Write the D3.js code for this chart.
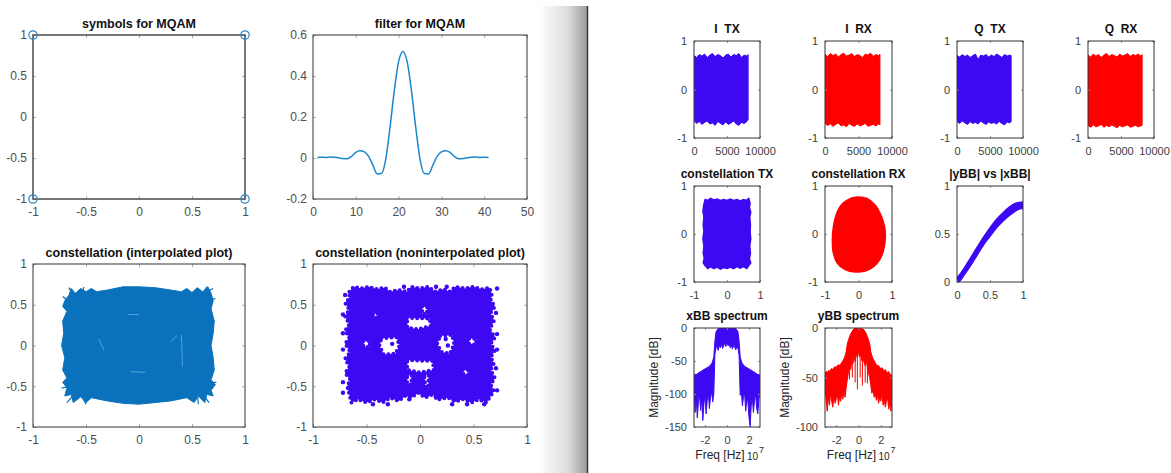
<!DOCTYPE html>
<html>
<head>
<meta charset="utf-8">
<script src="https://cdn.jsdelivr.net/npm/d3@7"></script>
<style>
  body { margin: 0; background: #fff; }
  svg { display: block; font-family: "Liberation Sans", Arial, Helvetica, sans-serif; }
</style>
</head>
<body>
<svg id="chart" width="1171" height="473" viewBox="0 0 1171 473"></svg>
<script>
// ---------- left figure data ----------
const unitTicks = [-1, -0.5, 0, 0.5, 1];
const symbolI = [-1, 1, -1, 1];
const symbolQ = [1, 1, -1, -1];

const filterXTicks = [0, 10, 20, 30, 40, 50];
const filterYTicks = [-0.2, 0, 0.2, 0.4, 0.6];
const filterTaps = [0.003, 0.004, 0.003, 0.005, 0.004, 0.001, -0.003, -0.004, 0.008, 0.028,
    0.035, 0.030, 0.008, -0.035, -0.078, -0.076, -0.005, 0.150, 0.330, 0.470,
    0.520, 0.470, 0.330, 0.150, -0.005, -0.076, -0.078, -0.035, 0.008, 0.030,
    0.035, 0.028, 0.008, -0.004, -0.003, 0.001, 0.004, 0.005, 0.003, 0.004, 0.003];

// outline of the interpolated constellation blob (I, Q)
const interpOutline = [[-0.70, 0.55], [-0.66, 0.62], [-0.64, 0.70], [-0.60, 0.64], [-0.55, 0.70], [-0.50, 0.66],
    [-0.45, 0.70], [-0.40, 0.66], [-0.30, 0.68], [-0.15, 0.72], [0, 0.72], [0.15, 0.71], [0.30, 0.68],
    [0.40, 0.66], [0.45, 0.70], [0.50, 0.65], [0.55, 0.71], [0.60, 0.66], [0.65, 0.72], [0.68, 0.64],
    [0.70, 0.55], [0.68, 0.45], [0.71, 0.30], [0.70, 0.15], [0.68, 0], [0.70, -0.15], [0.71, -0.30],
    [0.68, -0.42], [0.72, -0.48], [0.68, -0.55], [0.70, -0.62], [0.64, -0.60], [0.62, -0.70], [0.56, -0.62],
    [0.52, -0.70], [0.45, -0.64], [0.30, -0.68], [0.15, -0.70], [0, -0.72], [-0.15, -0.71], [-0.30, -0.68],
    [-0.45, -0.64], [-0.50, -0.70], [-0.55, -0.63], [-0.62, -0.70], [-0.64, -0.60], [-0.70, -0.62],
    [-0.68, -0.52], [-0.72, -0.45], [-0.68, -0.40], [-0.72, -0.30], [-0.70, -0.15], [-0.73, 0],
    [-0.71, 0.15], [-0.72, 0.30], [-0.68, 0.42], [-0.72, 0.48]];
const interpSpikes = [[-0.60, 0.55, -0.66, 0.71], [-0.55, 0.58, -0.52, 0.72], [-0.62, 0.50, -0.72, 0.60],
    [0.58, 0.56, 0.64, 0.72], [0.55, 0.60, 0.70, 0.70], [0.60, 0.50, 0.72, 0.58],
    [-0.58, -0.55, -0.68, -0.70], [-0.55, -0.58, -0.50, -0.72], [-0.60, -0.50, -0.73, -0.52],
    [0.58, -0.55, 0.66, -0.70], [0.55, -0.58, 0.56, -0.72], [0.60, -0.48, 0.73, -0.45]];
const interpStreaks = [[0.40, 0.13, 0.41, -0.26], [-0.38, 0.08, -0.33, -0.06], [-0.10, 0.38, 0.0, 0.38],
    [-0.08, -0.32, 0.06, -0.33], [0.30, 0.05, 0.36, 0.12]];

// non-interpolated constellation: outer edge, empty pockets, stray symbols
const scatterOutline = [[-0.66, 0.66], [-0.62, 0.72], [-0.55, 0.70], [-0.48, 0.72], [-0.40, 0.69], [-0.33, 0.71],
    [-0.28, 0.66], [-0.20, 0.68], [-0.12, 0.66], [-0.08, 0.72], [0.0, 0.70], [0.08, 0.72], [0.14, 0.66],
    [0.22, 0.69], [0.28, 0.66], [0.33, 0.72], [0.42, 0.70], [0.50, 0.72], [0.58, 0.69], [0.65, 0.71],
    [0.67, 0.62], [0.66, 0.55], [0.70, 0.48], [0.66, 0.40], [0.69, 0.30], [0.65, 0.20], [0.70, 0.10],
    [0.66, 0.02], [0.70, -0.06], [0.66, -0.14], [0.69, -0.22], [0.66, -0.30], [0.70, -0.40], [0.66, -0.48],
    [0.69, -0.56], [0.66, -0.62], [0.62, -0.70], [0.55, -0.66], [0.48, -0.70], [0.40, -0.66], [0.33, -0.69],
    [0.26, -0.64], [0.18, -0.66], [0.12, -0.60], [0.05, -0.64], [-0.02, -0.58], [-0.08, -0.64],
    [-0.14, -0.62], [-0.20, -0.68], [-0.28, -0.64], [-0.35, -0.70], [-0.42, -0.66], [-0.50, -0.70],
    [-0.58, -0.66], [-0.64, -0.70], [-0.66, -0.60], [-0.68, -0.50], [-0.65, -0.42], [-0.70, -0.34],
    [-0.66, -0.26], [-0.70, -0.16], [-0.65, -0.08], [-0.70, 0.02], [-0.66, 0.10], [-0.70, 0.18],
    [-0.66, 0.26], [-0.70, 0.36], [-0.66, 0.44], [-0.70, 0.52], [-0.66, 0.58]];
const scatterHoles = [
    [[-0.36, 0.09], [-0.22, 0.10], [-0.19, 0.0], [-0.23, -0.10], [-0.34, -0.11], [-0.38, 0.0]],
    [[-0.12, 0.34], [0.09, 0.33], [0.10, 0.24], [-0.02, 0.20], [-0.12, 0.22]],
    [[0.19, 0.12], [0.30, 0.13], [0.32, 0.02], [0.28, -0.10], [0.20, -0.08], [0.16, 0.02]],
    [[-0.12, -0.18], [0.12, -0.19], [0.13, -0.30], [0.0, -0.33], [-0.12, -0.30]],
    [[0.02, 0.48], [0.07, 0.47], [0.06, 0.38], [0.02, 0.39]],
    [[0.04, -0.36], [0.08, -0.36], [0.08, -0.52], [0.05, -0.50]],
    [[-0.12, -0.36], [-0.08, -0.36], [-0.08, -0.48], [-0.12, -0.47]],
    [[0.46, 0.09], [0.53, 0.08], [0.52, 0.01], [0.46, 0.02]],
    [[-0.53, 0.05], [-0.47, 0.06], [-0.47, -0.02], [-0.53, -0.01]],
    [[-0.44, 0.40], [-0.40, 0.40], [-0.40, 0.34], [-0.44, 0.35]],
    [[0.40, -0.30], [0.45, -0.30], [0.45, -0.36], [0.40, -0.35]]];
const scatterStray = [[-0.72, 0.38], [-0.72, 0.15], [-0.72, -0.05], [-0.72, -0.45], [-0.72, -0.58],
    [-0.70, 0.62], [0.72, 0.70], [0.72, -0.55], [0.71, 0.40], [0.72, -0.05], [0.72, 0.14], [0.71, -0.28],
    [0.60, -0.72], [0.44, -0.72], [-0.44, -0.72], [-0.30, -0.72], [0.30, -0.72], [-0.15, 0.72],
    [0.15, 0.72], [0.25, 0.72], [-0.10, -0.66], [0.15, -0.64], [-0.26, 0.02], [0.26, 0.0], [0.24, 0.08]];

// ---------- right figure data ----------
const timeTicks = [0, 5000, 10000];
const oneTicks = [-1, 0, 1];
const sampleIdx = [0, 400, 800, 1200, 1600, 2000, 2400, 2800, 3200, 3600, 4000,
    4400, 4800, 5200, 5600, 6000, 6400, 6800, 7200, 7600, 8000, 8200];
const iTxUpper = [0.70, 0.66, 0.72, 0.69, 0.73, 0.66, 0.71, 0.74, 0.68, 0.72, 0.70, 0.65, 0.71, 0.73, 0.67, 0.72, 0.70, 0.74, 0.66, 0.71, 0.69, 0.72];
const iTxLower = [-0.64, -0.70, -0.66, -0.72, -0.68, -0.65, -0.71, -0.69, -0.74, -0.66, -0.70, -0.73, -0.67, -0.72, -0.69, -0.65, -0.71, -0.74, -0.68, -0.70, -0.66, -0.62];
const iRxUpper = [0.72, 0.68, 0.74, 0.70, 0.73, 0.67, 0.72, 0.75, 0.69, 0.71, 0.74, 0.68, 0.72, 0.70, 0.66, 0.73, 0.71, 0.75, 0.68, 0.72, 0.70, 0.73];
const iRxLower = [-0.70, -0.74, -0.71, -0.76, -0.72, -0.69, -0.75, -0.73, -0.77, -0.70, -0.74, -0.76, -0.71, -0.75, -0.73, -0.70, -0.76, -0.74, -0.72, -0.75, -0.71, -0.73];
const qTxUpper = [0.70, 0.67, 0.72, 0.68, 0.71, 0.66, 0.70, 0.73, 0.62, 0.71, 0.69, 0.72, 0.67, 0.71, 0.68, 0.73, 0.70, 0.66, 0.72, 0.69, 0.71, 0.70];
const qTxLower = [-0.66, -0.70, -0.65, -0.69, -0.72, -0.66, -0.70, -0.68, -0.71, -0.65, -0.69, -0.72, -0.67, -0.70, -0.68, -0.71, -0.66, -0.70, -0.73, -0.67, -0.69, -0.66];
const qRxUpper = [0.71, 0.67, 0.73, 0.69, 0.72, 0.66, 0.71, 0.74, 0.68, 0.72, 0.70, 0.67, 0.73, 0.69, 0.71, 0.74, 0.68, 0.72, 0.70, 0.73, 0.69, 0.72];
const qRxLower = [-0.74, -0.78, -0.73, -0.77, -0.75, -0.72, -0.78, -0.74, -0.77, -0.73, -0.76, -0.79, -0.74, -0.77, -0.75, -0.73, -0.78, -0.76, -0.74, -0.77, -0.75, -0.74];

const constTxOutline = [[-0.70, 0.62], [-0.66, 0.72], [-0.58, 0.70], [-0.50, 0.74], [-0.40, 0.71], [-0.30, 0.73],
    [-0.20, 0.70], [-0.10, 0.72], [0.0, 0.70], [0.10, 0.73], [0.20, 0.70], [0.30, 0.72], [0.40, 0.69],
    [0.50, 0.72], [0.58, 0.70], [0.66, 0.74], [0.70, 0.64], [0.68, 0.55], [0.72, 0.45], [0.69, 0.35],
    [0.71, 0.20], [0.70, 0.05], [0.72, -0.10], [0.69, -0.25], [0.71, -0.40], [0.68, -0.52], [0.72, -0.60],
    [0.66, -0.66], [0.60, -0.72], [0.50, -0.68], [0.40, -0.71], [0.30, -0.68], [0.20, -0.72], [0.10, -0.69],
    [0.0, -0.72], [-0.10, -0.70], [-0.20, -0.73], [-0.30, -0.69], [-0.40, -0.72], [-0.50, -0.68],
    [-0.58, -0.72], [-0.66, -0.66], [-0.72, -0.60], [-0.69, -0.50], [-0.72, -0.40], [-0.70, -0.25],
    [-0.73, -0.10], [-0.70, 0.05], [-0.72, 0.20], [-0.70, 0.35], [-0.73, 0.48]];
const constRxOutline = [[-0.05, 0.77], [0.25, 0.74], [0.50, 0.60], [0.67, 0.39], [0.78, 0.15], [0.80, -0.09],
    [0.75, -0.33], [0.63, -0.54], [0.45, -0.68], [0.20, -0.77], [-0.10, -0.79], [-0.40, -0.74],
    [-0.63, -0.61], [-0.75, -0.40], [-0.78, -0.12], [-0.75, 0.15], [-0.67, 0.39], [-0.55, 0.57], [-0.35, 0.70]];

const ampTicks = [0, 0.5, 1];
const ampX = [0, 0.05, 0.1, 0.2, 0.3, 0.4, 0.5, 0.6, 0.7, 0.8, 0.9, 1.0];
const ampUpper = [0.04, 0.08, 0.13, 0.24, 0.35, 0.46, 0.56, 0.65, 0.72, 0.78, 0.82, 0.83];
const ampLower = [0.0, 0.02, 0.07, 0.17, 0.28, 0.39, 0.48, 0.57, 0.64, 0.70, 0.75, 0.77];

const freqTicks = [-2, 0, 2];
const xbbTicks = [-150, -100, -50, 0];
const ybbTicks = [-100, -50, 0];
const freqAxis = [-3.0, -2.9, -2.8, -2.7, -2.6, -2.5, -2.4, -2.3, -2.2, -2.1, -2.0, -1.9, -1.8, -1.7, -1.6,
    -1.5, -1.4, -1.3, -1.2, -1.1, -1.0, -0.9, -0.8, -0.7, -0.6, -0.5, -0.4, -0.3, -0.2, -0.1, 0,
    0.1, 0.2, 0.3, 0.4, 0.5, 0.6, 0.7, 0.8, 0.9, 1.0, 1.1, 1.2, 1.3, 1.4, 1.5, 1.6, 1.7, 1.8, 1.9,
    2.0, 2.1, 2.2, 2.3, 2.4, 2.5, 2.6, 2.7, 2.8, 2.9, 3.0];
const xbbUpper = [-72, -70, -71, -69, -68, -67, -66, -65, -64, -63, -62, -61, -60, -59, -58,
    -56, -54, -50, -44, -20, -6, -3, -1, 0, 0, 0, 0, 0, 0, 0, 0,
    0, 0, 0, 0, 0, 0, 0, -1, -3, -6, -20, -44, -50, -54, -56, -58, -59, -60, -61,
    -62, -63, -64, -65, -66, -67, -68, -69, -71, -70, -72];
const xbbLower = [-92, -128, -105, -136, -112, -100, -125, -108, -140, -115, -102, -130, -110, -98, -122,
    -105, -96, -112, -100, -40, -30, -28, -34, -26, -30, -24, -31, -27, -22, -28, -20,
    -27, -24, -30, -26, -32, -25, -29, -33, -28, -31, -42, -102, -95, -118, -104, -99, -126, -108, -112,
    -135, -150, -118, -105, -128, -110, -100, -122, -130, -108, -95];
const ybbUpper = [-46, -44, -45, -43, -44, -42, -41, -42, -40, -39, -40, -38, -37, -38, -36,
    -35, -33, -31, -28, -24, -16, -12, -9, -6, -4, -2, -1, 0, 0, 0, 0,
    0, 0, -1, -1, -2, -4, -6, -9, -12, -16, -24, -28, -31, -33, -35, -37, -38, -38, -40,
    -41, -40, -42, -43, -42, -44, -45, -44, -46, -47, -48];
const ybbLower = [-60, -72, -84, -70, -78, -66, -74, -80, -68, -76, -72, -65, -78, -70, -74,
    -66, -72, -64, -70, -60, -52, -45, -38, -42, -32, -36, -28, -34, -26, -30, -24,
    -29, -27, -33, -30, -35, -38, -33, -40, -46, -50, -58, -66, -62, -70, -66, -73, -68, -76, -70,
    -74, -65, -78, -72, -80, -74, -70, -82, -76, -84, -72];
const ybbSpikes = [[-0.55, -50], [-0.3, -55], [-0.1, -62], [0.15, -50], [0.35, -58], [0.6, -55], [-0.8, -52], [0.8, -56]];

// ---------- styling ----------
const MATLAB_BLUE = "#0a72bd";
const TX_BLUE = "#3d08f2";
const RX_RED = "#ff0000";

const svg = d3.select("#chart");
const fmt = d => String(d);
let clipCount = 0;

// shaded divider between the two figure windows
const defs = svg.append("defs");
const grad = defs.append("linearGradient").attr("id", "shade");
grad.append("stop").attr("offset", "0%").attr("stop-color", "#ffffff");
grad.append("stop").attr("offset", "60%").attr("stop-color", "#dedede");
grad.append("stop").attr("offset", "100%").attr("stop-color", "#9c9c9c");
svg.append("rect").attr("x", 538).attr("y", 6).attr("width", 49).attr("height", 467).attr("fill", "url(#shade)");
svg.append("line").attr("x1", 587.5).attr("x2", 587.5).attr("y1", 6).attr("y2", 473)
    .attr("stroke", "#3a3a3a").attr("stroke-width", 1.5);

function panel(o) {
    const [l, r, t, b] = o.box;
    const x = d3.scaleLinear().domain(o.xDomain).range([l, r]);
    const y = d3.scaleLinear().domain(o.yDomain).range([b, t]);
    const g = svg.append("g");
    const id = "clip" + (clipCount++);
    g.append("clipPath").attr("id", id).append("rect")
        .attr("x", l).attr("y", t).attr("width", r - l).attr("height", b - t);
    const plot = g.append("g").attr("clip-path", `url(#${id})`);
    const frame = g.append("g");

    const styleAxis = sel => {
        sel.attr("font-family", null).attr("font-size", null);
        sel.select(".domain").remove();
        sel.selectAll(".tick line").attr("stroke", o.tickColor);
        sel.selectAll("text").attr("fill", o.labelColor).attr("font-size", o.font);
    };
    frame.append("g").attr("transform", `translate(0,${b})`)
        .call(d3.axisBottom(x).tickValues(o.xTicks).tickFormat(fmt).tickSize(-o.tick).tickPadding(o.padX))
        .call(styleAxis);
    frame.append("g").attr("transform", `translate(${l},0)`)
        .call(d3.axisLeft(y).tickValues(o.yTicks).tickFormat(fmt).tickSize(-o.tick).tickPadding(o.padY))
        .call(styleAxis);
    frame.append("g").attr("transform", `translate(0,${t})`)
        .call(d3.axisTop(x).tickValues(o.xTicks).tickFormat(() => "").tickSize(-o.tick))
        .call(styleAxis);
    frame.append("g").attr("transform", `translate(${r},0)`)
        .call(d3.axisRight(y).tickValues(o.yTicks).tickFormat(() => "").tickSize(-o.tick))
        .call(styleAxis);

    frame.append("rect").attr("x", l).attr("y", t).attr("width", r - l).attr("height", b - t)
        .attr("fill", "none").attr("stroke", o.boxColor || "#333").attr("stroke-width", o.boxWidth || 1);

    frame.append("text").attr("x", (l + r) / 2).attr("y", t - o.titleGap)
        .attr("text-anchor", "middle").attr("font-weight", "bold").attr("font-size", o.titleSize)
        .attr("fill", "#111").style("white-space", "pre").text(o.title);

    return { x, y, plot, frame };
}

const leftStyle = { font: 12, labelColor: "#4d4d4d", tickColor: "#b0b0b0", tick: 3, padX: 8, padY: 6, titleGap: 7, titleSize: 12.5 };
const rightStyle = { font: 11, labelColor: "#3c3c3c", tickColor: "#999", tick: 2, padX: 9, padY: 7, titleGap: 8, titleSize: 12 };

const closed = (p) => d3.line().x(d => p.x(d[0])).y(d => p.y(d[1])).curve(d3.curveLinearClosed);

// ---------- left figure ----------
{
    const p = panel({ ...leftStyle, box: [33, 245, 35, 199], xDomain: [-1, 1], yDomain: [-1, 1],
        xTicks: unitTicks, yTicks: unitTicks, title: "symbols for MQAM", boxColor: "#555", boxWidth: 1.6 });
    p.frame.selectAll("circle.sym").data(symbolI).join("circle").attr("class", "sym")
        .attr("cx", d => p.x(d)).attr("cy", (d, i) => p.y(symbolQ[i])).attr("r", 4.2)
        .attr("fill", "none").attr("stroke", "#2f86c6").attr("stroke-width", 1.2);
}
{
    const p = panel({ ...leftStyle, box: [313, 527, 35, 199], xDomain: [0, 50], yDomain: [-0.2, 0.6],
        xTicks: filterXTicks, yTicks: filterYTicks, title: "filter for MQAM" });
    p.plot.append("path").datum(filterTaps)
        .attr("d", d3.line().x((d, i) => p.x(i + 1)).y(d => p.y(d)).curve(d3.curveMonotoneX))
        .attr("fill", "none").attr("stroke", "#1b86c8").attr("stroke-width", 1.5);
}
{
    const p = panel({ ...leftStyle, box: [33, 245, 264, 427], xDomain: [-1, 1], yDomain: [-1, 1],
        xTicks: unitTicks, yTicks: unitTicks, title: "constellation (interpolated plot)" });
    p.plot.append("path").datum(interpOutline).attr("d", closed(p))
        .attr("fill", MATLAB_BLUE).attr("stroke", MATLAB_BLUE).attr("stroke-width", 1);
    p.plot.selectAll("line.spike").data(interpSpikes).join("line").attr("class", "spike")
        .attr("x1", d => p.x(d[0])).attr("y1", d => p.y(d[1])).attr("x2", d => p.x(d[2])).attr("y2", d => p.y(d[3]))
        .attr("stroke", MATLAB_BLUE).attr("stroke-width", 1.2);
    p.plot.selectAll("line.streak").data(interpStreaks).join("line").attr("class", "streak")
        .attr("x1", d => p.x(d[0])).attr("y1", d => p.y(d[1])).attr("x2", d => p.x(d[2])).attr("y2", d => p.y(d[3]))
        .attr("stroke", "#4fa2dc").attr("stroke-width", 1);
}
{
    const p = panel({ ...leftStyle, box: [313, 527, 264, 427], xDomain: [-1, 1], yDomain: [-1, 1],
        xTicks: unitTicks, yTicks: unitTicks, title: "constellation (noninterpolated plot)" });
    const ring = closed(p);
    p.plot.append("path")
        .attr("d", ring(scatterOutline) + scatterHoles.map(h => ring(h)).join(""))
        .attr("fill", TX_BLUE).attr("fill-rule", "evenodd")
        .attr("stroke", TX_BLUE).attr("stroke-width", 4).attr("stroke-linecap", "round")
        .attr("stroke-dasharray", "0 5");
    p.plot.selectAll("circle").data(scatterStray).join("circle")
        .attr("cx", d => p.x(d[0])).attr("cy", d => p.y(d[1])).attr("r", 2.2).attr("fill", TX_BLUE);
}

// ---------- right figure ----------
const cols = [[694, 760], [825, 892], [957, 1023], [1088, 1154]];
const rows = [[41, 138], [186, 282], [328, 427]];

const timePanels = [
    { title: "I  TX", upper: iTxUpper, lower: iTxLower, color: TX_BLUE },
    { title: "I  RX", upper: iRxUpper, lower: iRxLower, color: RX_RED },
    { title: "Q  TX", upper: qTxUpper, lower: qTxLower, color: TX_BLUE },
    { title: "Q  RX", upper: qRxUpper, lower: qRxLower, color: RX_RED }
];
timePanels.forEach((tp, k) => {
    const p = panel({ ...rightStyle, box: [...cols[k], ...rows[0]], xDomain: [0, 10000], yDomain: [-1, 1],
        xTicks: timeTicks, yTicks: oneTicks, title: tp.title });
    p.plot.append("path").datum(tp.upper)
        .attr("d", d3.area().x((d, i) => p.x(sampleIdx[i])).y0((d, i) => p.y(tp.lower[i])).y1(d => p.y(d)))
        .attr("fill", tp.color).attr("stroke", tp.color).attr("stroke-width", 1);
});

[{ title: "constellation TX", outline: constTxOutline, color: TX_BLUE, curve: d3.curveLinearClosed },
 { title: "constellation RX", outline: constRxOutline, color: RX_RED, curve: d3.curveCatmullRomClosed }]
    .forEach((cp, k) => {
        const p = panel({ ...rightStyle, box: [...cols[k], ...rows[1]], xDomain: [-1, 1], yDomain: [-1, 1],
            xTicks: oneTicks, yTicks: oneTicks, title: cp.title });
        p.plot.append("path").datum(cp.outline)
            .attr("d", d3.line().x(d => p.x(d[0])).y(d => p.y(d[1])).curve(cp.curve))
            .attr("fill", cp.color).attr("stroke", cp.color).attr("stroke-width", 1.5);
    });

{
    const p = panel({ ...rightStyle, box: [...cols[2], ...rows[1]], xDomain: [0, 1], yDomain: [0, 1],
        xTicks: ampTicks, yTicks: ampTicks, title: "|yBB| vs |xBB|" });
    p.plot.append("path").datum(ampUpper)
        .attr("d", d3.area().x((d, i) => p.x(ampX[i])).y0((d, i) => p.y(ampLower[i])).y1(d => p.y(d)).curve(d3.curveMonotoneX))
        .attr("fill", TX_BLUE).attr("stroke", TX_BLUE).attr("stroke-width", 2).attr("stroke-linejoin", "round");
}

function spectrum(k, title, yDomain, yTicks, upper, lower, color, spikes) {
    const p = panel({ ...rightStyle, box: [...cols[k], ...rows[2]], xDomain: [-3, 3], yDomain,
        xTicks: freqTicks, yTicks, title });
    p.plot.append("path").datum(upper)
        .attr("d", d3.area().x((d, i) => p.x(freqAxis[i])).y0((d, i) => p.y(lower[i])).y1(d => p.y(d)))
        .attr("fill", color).attr("stroke", color).attr("stroke-width", 1);
    p.plot.selectAll("line.sp").data(spikes).join("line").attr("class", "sp")
        .attr("x1", d => p.x(d[0])).attr("x2", d => p.x(d[0]))
        .attr("y1", p.y(-25)).attr("y2", d => p.y(d[1]))
        .attr("stroke", color).attr("stroke-width", 1);
    const [l, r] = cols[k];
    const [t, b] = rows[2];
    const cx = (l + r) / 2;
    p.frame.append("text").attr("transform", `translate(${l - 36},${(t + b) / 2}) rotate(-90)`)
        .attr("text-anchor", "middle").attr("font-size", 12).attr("fill", "#262626").text("Magnitude [dB]");
    // axis label, then the x10^7 exponent just to its right
    p.frame.append("text").attr("x", cx - 7).attr("y", b + 32)
        .attr("text-anchor", "middle").attr("font-size", 12).attr("fill", "#262626").text("Freq [Hz]");
    p.frame.append("text").attr("x", cx + 20).attr("y", b + 33)
        .attr("font-size", 10).attr("fill", "#262626").text("10");
    p.frame.append("text").attr("x", cx + 32).attr("y", b + 26)
        .attr("font-size", 9).attr("fill", "#262626").text("7");
}
spectrum(0, "xBB spectrum", [-150, 0], xbbTicks, xbbUpper, xbbLower, TX_BLUE, []);
spectrum(1, "yBB spectrum", [-100, 0], ybbTicks, ybbUpper, ybbLower, RX_RED, ybbSpikes);
</script>
</body>
</html>
